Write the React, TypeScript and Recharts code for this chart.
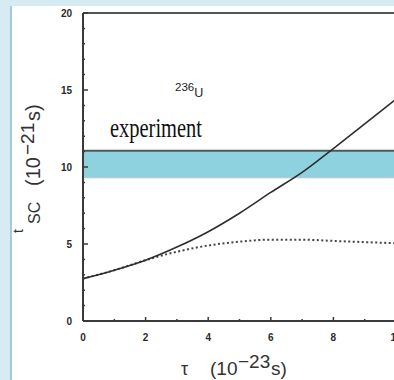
import React from 'react';
import { ComposedChart, Line, XAxis, YAxis, ReferenceArea, ReferenceLine } from 'recharts';

const tauValues = [0, 1, 2, 3, 4, 5, 6, 7, 8, 9, 10];
const solidCurve = [2.75, 3.3, 3.95, 4.8, 5.8, 7.0, 8.35, 9.65, 11.2, 12.8, 14.4];
const dottedCurve = [2.75, 3.3, 3.95, 4.5, 4.9, 5.15, 5.28, 5.28, 5.2, 5.12, 5.05];
const experimentBand = [9.3, 11.05];
const xTickValues = [0, 1, 2, 3, 4, 5, 6, 7, 8, 9, 10];
const yTickValues = Array.from({ length: 21 }, (_, i) => i);
const xLabelTicks = [0, 2, 4, 6, 8, 10];
const yLabelTicks = [0, 5, 10, 15, 20];

const data = tauValues.map((t, i) => ({ tau: t, solid: solidCurve[i], dotted: dottedCurve[i] }));

const INK = '#3a3a3a';
const TICK_FONT = '"Liberation Sans", Arial, sans-serif';

const YTick = (props: any) => {
  const { x, y, payload } = props;
  const v = payload.value;
  const major = yLabelTicks.includes(v);
  return (
    <g>
      <line x1={x} x2={x + (major ? 5 : 2)} y1={y} y2={y} stroke={INK} strokeWidth={1.5} />
      {major && (
        <text x={x - 11} y={y} dy={3.5} textAnchor="end" fontSize={10} fontWeight="bold" fontFamily={TICK_FONT} fill="#2a2a2a">
          {v}
        </text>
      )}
    </g>
  );
};

const XTick = (props: any) => {
  const { x, y, payload } = props;
  const v = payload.value;
  const major = xLabelTicks.includes(v);
  return (
    <g>
      <line x1={x} x2={x} y1={y} y2={y - (major ? 4 : 2)} stroke={INK} strokeWidth={1.5} />
      {major && (
        <text x={x} y={y + 20} textAnchor="middle" fontSize={10} fontWeight="bold" fontFamily={TICK_FONT} fill="#2a2a2a">
          {v}
        </text>
      )}
    </g>
  );
};

export default function App() {
  return (
    <div style={{ position: 'absolute', left: 0, top: 0, width: 394, height: 380, overflow: 'hidden', background: '#d7ebf2' }}>
      <div style={{ position: 'absolute', left: 10, top: 6, right: 0, bottom: 0, background: '#ffffff', borderLeft: '2px solid #a3cbdd' }} />
      <div style={{ position: 'absolute', left: 0, top: 0 }}>
        <ComposedChart width={420} height={380} data={data} margin={{ top: 13, left: 23, right: 24, bottom: 29 }}>
          <XAxis
            dataKey="tau"
            type="number"
            domain={[0, 10]}
            ticks={xTickValues}
            interval={0}
            tickSize={0}
            tickMargin={0}
            tickLine={false}
            height={30}
            axisLine={{ stroke: INK, strokeWidth: 2 }}
            tick={<XTick />}
          />
          <YAxis
            type="number"
            domain={[0, 20]}
            ticks={yTickValues}
            interval={0}
            tickSize={0}
            tickMargin={0}
            tickLine={false}
            width={60}
            axisLine={{ stroke: INK, strokeWidth: 2 }}
            tick={<YTick />}
          />
          <ReferenceArea y1={experimentBand[0]} y2={experimentBand[1]} fill="#8fd2df" fillOpacity={1} stroke="none" ifOverflow="visible" />
          <ReferenceLine y={experimentBand[0]} stroke="#b9c4c8" strokeWidth={1} />
          <ReferenceLine y={experimentBand[1]} stroke="#4a5a5e" strokeWidth={2} />
          <ReferenceLine y={20} stroke="#555" strokeWidth={2} />
          <Line type="monotone" dataKey="dotted" stroke="#444" strokeWidth={2} strokeDasharray="2 2.5" dot={false} isAnimationActive={false} />
          <Line type="monotone" dataKey="solid" stroke="#2e2e2e" strokeWidth={1.6} dot={false} isAnimationActive={false} />
        </ComposedChart>
      </div>
      <svg width={394} height={380} style={{ position: 'absolute', left: 0, top: 0, pointerEvents: 'none' }}>
        <text x={175} y={91} fontSize={11.5} fontFamily={TICK_FONT} fill="#222">
          236
          <tspan fontSize={12.5} dy={6}>U</tspan>
        </text>
        <text x={110} y={137} fontSize={27} fontFamily='"Liberation Serif", "Times New Roman", serif' fill="#111" textLength={92} lengthAdjust="spacingAndGlyphs">
          experiment
        </text>
        <text y={375} fontSize={19} fontFamily={TICK_FONT} fill="#333">
          <tspan x={181} fontSize={18}>τ</tspan>
          <tspan x={210}>(10</tspan>
          <tspan x={238} fontSize={19} dy={-7}>−23</tspan>
          <tspan x={271} dy={7}>s)</tspan>
        </text>
        <text transform="translate(40,0) rotate(-90)" fontSize={20} fontFamily={TICK_FONT} fill="#333">
          <tspan x={-233} fontSize={14} dy={-17}>t</tspan>
          <tspan x={-224} fontSize={16} dy={17}>SC</tspan>
          <tspan x={-186}>(10</tspan>
          <tspan x={-155} fontSize={19} dy={-6}>−21</tspan>
          <tspan x={-121} dy={6}>s)</tspan>
        </text>
      </svg>
    </div>
  );
}
